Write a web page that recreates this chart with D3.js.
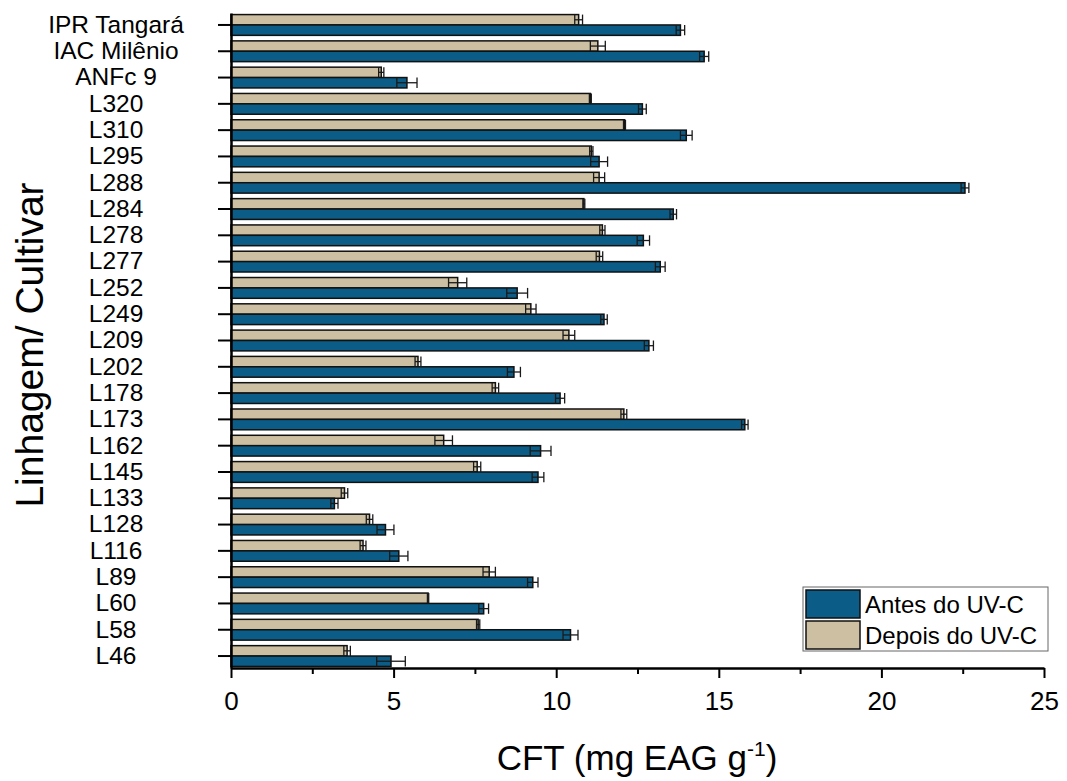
<!DOCTYPE html>
<html>
<head>
<meta charset="utf-8">
<script src="https://cdn.jsdelivr.net/npm/d3@7"></script>
<style>
  body { margin: 0; background: #fff; }
  text { font-family: "Liberation Sans", Arial, sans-serif; fill: #000; }
</style>
</head>
<body>
<div id="chart"></div>
<script>
// categories, top to bottom
const categories = ["IPR Tangará", "IAC Milênio", "ANFc 9", "L320", "L310", "L295", "L288", "L284", "L278", "L277",
  "L252", "L249", "L209", "L202", "L178", "L173", "L162", "L145", "L133", "L128", "L116", "L89", "L60", "L58", "L46"];

// Antes do UV-C (blue)
const antes    = [13.82, 14.55, 5.41, 12.65, 14.0, 11.32, 22.57, 13.6, 12.68, 13.2,
  8.8, 11.47, 12.85, 8.7, 10.12, 15.8, 9.52, 9.44, 3.18, 4.75, 5.16, 9.28, 7.77, 10.44, 4.92];
const antesErr = [0.13, 0.14, 0.31, 0.12, 0.18, 0.26, 0.12, 0.1, 0.19, 0.15,
  0.32, 0.1, 0.14, 0.2, 0.14, 0.1, 0.32, 0.18, 0.11, 0.26, 0.28, 0.16, 0.15, 0.23, 0.44];

// Depois do UV-C (tan)
const depois    = [10.69, 11.28, 4.62, 11.05, 12.1, 11.08, 11.32, 10.85, 11.42, 11.33,
  6.97, 9.22, 10.39, 5.75, 8.13, 12.08, 6.54, 7.57, 3.49, 4.26, 4.06, 7.94, 6.06, 7.6, 3.57];
const depoisErr = [0.12, 0.23, 0.08, 0.03, 0.03, 0.05, 0.17, 0.03, 0.08, 0.1,
  0.28, 0.16, 0.18, 0.09, 0.1, 0.09, 0.27, 0.11, 0.1, 0.1, 0.09, 0.19, 0.02, 0.05, 0.1];

const series = ["Depois", "Antes"];
const seriesLabels = { Antes: "Antes do UV-C", Depois: "Depois do UV-C" };
const xTicks = [0, 5, 10, 15, 20, 25];
const xMinorTicks = [2.5, 7.5, 12.5, 17.5, 22.5];

const width = 1067, height = 781;
const margin = { top: 13, right: 23, bottom: 113, left: 231 };

const color = { Antes: "#0b5d87", Depois: "#cdc0a2" };

const svg = d3.select("#chart").append("svg")
  .attr("width", width)
  .attr("height", height);

const x = d3.scaleLinear().domain([0, 25]).range([margin.left, width - margin.right]);
const y = d3.scaleBand().domain(categories)
  .range([margin.top, height - margin.bottom])
  .paddingInner(0.21).paddingOuter(0.06);
const ySub = d3.scaleBand().domain(series).range([0, y.bandwidth()]);

// build rows for drawing
const rows = [];
categories.forEach((c, i) => {
  rows.push({ cat: c, s: "Depois", v: depois[i], e: depoisErr[i] });
  rows.push({ cat: c, s: "Antes", v: antes[i], e: antesErr[i] });
});

// bars
svg.append("g").selectAll("rect")
  .data(rows)
  .join("rect")
  .attr("x", x(0))
  .attr("y", d => y(d.cat) + ySub(d.s))
  .attr("width", d => x(d.v) - x(0))
  .attr("height", ySub.bandwidth())
  .attr("fill", d => color[d.s])
  .attr("stroke", "#111")
  .attr("stroke-width", 1.5);

// error bars
const eb = svg.append("g").attr("stroke", "#1a1a1a").attr("stroke-width", 1.3).attr("fill", "none");
rows.forEach(d => {
  const cy = y(d.cat) + ySub(d.s) + ySub.bandwidth() / 2;
  const h = ySub.bandwidth() / 2;
  eb.append("line").attr("x1", x(d.v - d.e)).attr("x2", x(d.v + d.e)).attr("y1", cy).attr("y2", cy);
  [d.v - d.e, d.v + d.e].forEach(v => {
    eb.append("line").attr("x1", x(v)).attr("x2", x(v)).attr("y1", cy - h).attr("y2", cy + h);
  });
});

// x axis
const plotBottom = height - margin.bottom;
const xAxis = svg.append("g")
  .attr("transform", `translate(0,${plotBottom})`)
  .call(d3.axisBottom(x).tickValues(xTicks).tickSize(10).tickSizeOuter(0).tickPadding(14));
xAxis.select(".domain").attr("stroke-width", 2.5);
xAxis.selectAll(".tick line").attr("stroke-width", 2);
xAxis.selectAll(".tick text").attr("font-size", 26);

svg.append("g")
  .attr("transform", `translate(0,${plotBottom})`)
  .call(d3.axisBottom(x).tickValues(xMinorTicks).tickSize(6).tickFormat(""))
  .call(g => g.select(".domain").remove())
  .selectAll(".tick line").attr("stroke-width", 2);

// y axis, labels centred in the left margin
const labelX = 116;
const yAxis = svg.append("g")
  .attr("transform", `translate(${margin.left},0)`)
  .call(d3.axisLeft(y).tickSize(13).tickSizeOuter(0));
yAxis.select(".domain").attr("stroke-width", 2.5);
yAxis.selectAll(".tick line").attr("stroke-width", 2);
yAxis.selectAll(".tick text")
  .attr("font-size", 24.5)
  .attr("text-anchor", "middle")
  .attr("x", labelX - margin.left);

// axis titles
svg.append("text")
  .attr("transform", "translate(43,345) rotate(-90)")
  .attr("text-anchor", "middle")
  .attr("font-size", 39)
  .text("Linhagem/ Cultivar");

const xt = svg.append("text")
  .attr("transform", "translate(637,770)")
  .attr("text-anchor", "middle")
  .attr("font-size", 35);
xt.append("tspan").text("CFT (mg EAG g");
xt.append("tspan").attr("font-size", 21).attr("dy", -14).text("-1");
xt.append("tspan").attr("dy", 14).text(")");

// legend
const legend = svg.append("g");
legend.append("rect")
  .attr("x", 803).attr("y", 587).attr("width", 245).attr("height", 64)
  .attr("fill", "#fff").attr("stroke", "#666").attr("stroke-width", 1);
["Antes", "Depois"].forEach((s, i) => {
  legend.append("rect")
    .attr("x", 806).attr("y", 590 + i * 31).attr("width", 54).attr("height", 28)
    .attr("fill", color[s]).attr("stroke", "#111").attr("stroke-width", 1.5);
  legend.append("text")
    .attr("x", 865).attr("y", 613 + i * 31)
    .attr("font-size", 24)
    .text(seriesLabels[s]);
});
</script>
</body>
</html>
